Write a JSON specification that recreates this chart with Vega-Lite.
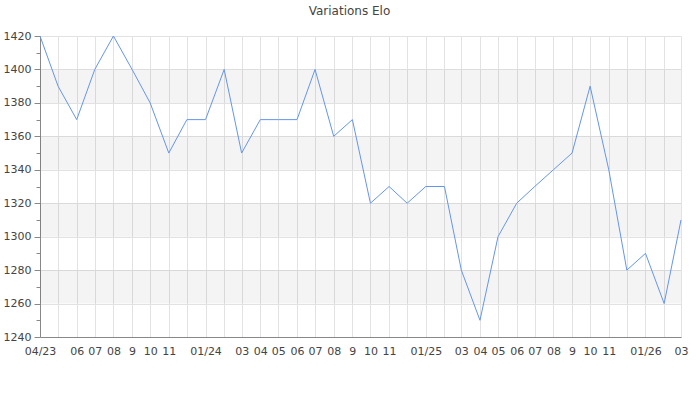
{
  "$schema": "https://vega.github.io/schema/vega-lite/v6.json",
  "autosize": {"type": "none"},
  "width": 641,
  "height": 301,
  "padding": {"left": 40, "top": 36, "right": 19, "bottom": 63},
  "config": {
    "font": "DejaVu Sans",
    "view": {"stroke": null},
    "axis": {"labelFont": "DejaVu Sans", "labelFontSize": 11, "labelColor": "#444444", "domainColor": "#888888", "tickColor": "#888888", "gridColor": "#e2e2e2", "title": null}
  },
  "title": {"text": "Variations Elo", "fontSize": 12, "fontWeight": "normal", "color": "#444444", "anchor": "middle", "dx": -11, "offset": 12, "font": "DejaVu Sans"},
  "datasets": {
    "elo": [
      {"date": "2023-04-01", "elo": 1420},
      {"date": "2023-05-01", "elo": 1390},
      {"date": "2023-06-01", "elo": 1370},
      {"date": "2023-07-01", "elo": 1400},
      {"date": "2023-08-01", "elo": 1420},
      {"date": "2023-09-01", "elo": 1400},
      {"date": "2023-10-01", "elo": 1380},
      {"date": "2023-11-01", "elo": 1350},
      {"date": "2023-12-01", "elo": 1370},
      {"date": "2024-01-01", "elo": 1370},
      {"date": "2024-02-01", "elo": 1400},
      {"date": "2024-03-01", "elo": 1350},
      {"date": "2024-04-01", "elo": 1370},
      {"date": "2024-05-01", "elo": 1370},
      {"date": "2024-06-01", "elo": 1370},
      {"date": "2024-07-01", "elo": 1400},
      {"date": "2024-08-01", "elo": 1360},
      {"date": "2024-09-01", "elo": 1370},
      {"date": "2024-10-01", "elo": 1320},
      {"date": "2024-11-01", "elo": 1330},
      {"date": "2024-12-01", "elo": 1320},
      {"date": "2025-01-01", "elo": 1330},
      {"date": "2025-02-01", "elo": 1330},
      {"date": "2025-03-01", "elo": 1280},
      {"date": "2025-04-01", "elo": 1250},
      {"date": "2025-05-01", "elo": 1300},
      {"date": "2025-06-01", "elo": 1320},
      {"date": "2025-07-01", "elo": 1330},
      {"date": "2025-08-01", "elo": 1340},
      {"date": "2025-09-01", "elo": 1350},
      {"date": "2025-10-01", "elo": 1390},
      {"date": "2025-11-01", "elo": 1340},
      {"date": "2025-12-01", "elo": 1280},
      {"date": "2026-01-01", "elo": 1290},
      {"date": "2026-02-01", "elo": 1260},
      {"date": "2026-03-01", "elo": 1310}
    ],
    "bands": [
      {"lo": 1260, "hi": 1280},
      {"lo": 1300, "hi": 1320},
      {"lo": 1340, "hi": 1360},
      {"lo": 1380, "hi": 1400}
    ]
  },
  "layer": [
    {
      "data": {"name": "bands"},
      "mark": {"type": "rect", "fill": "#000000", "fillOpacity": 0.045},
      "encoding": {
        "y": {
          "field": "lo", "type": "quantitative",
          "scale": {"domain": [1240, 1420], "nice": false, "zero": false},
          "axis": {
            "values": [1240, 1250, 1260, 1270, 1280, 1290, 1300, 1310, 1320, 1330, 1340, 1350, 1360, 1370, 1380, 1390, 1400, 1410, 1420],
            "labelExpr": "datum.value % 20 == 0 ? format(datum.value, 'd') : ''",
            "labelOverlap": false,
            "labelFlush": false,
            "gridColor": {"condition": {"test": "datum.value % 20 != 0", "value": "transparent"}, "value": "#e2e2e2"},
            "tickSize": {"condition": {"test": "datum.value % 20 != 0", "value": 4}, "value": 6},
            "labelPadding": 3
          }
        },
        "y2": {"field": "hi"}
      }
    },
    {
      "data": {"name": "elo"},
      "mark": {"type": "line", "color": "#6495ed", "strokeWidth": 1},
      "encoding": {
        "x": {
          "field": "date", "type": "temporal",
          "scale": {"type": "utc", "nice": false},
          "axis": {
            "tickCount": {"interval": "month", "step": 1},
            "ticks": false,
            "labelPadding": 8,
            "labelOverlap": false,
            "labelFlush": false,
            "labelExpr": "utcmonth(datum.value)==0 ? utcFormat(datum.value,'%m/%y') : (utcyear(datum.value)==2023 && utcmonth(datum.value)==3) ? '04/23' : (utcmonth(datum.value)==11 || utcmonth(datum.value)==1 || (utcyear(datum.value)==2023 && utcmonth(datum.value)==4)) ? '' : utcmonth(datum.value)==8 ? '9' : utcFormat(datum.value,'%m')"
          }
        },
        "y": {
          "field": "elo", "type": "quantitative",
          "scale": {"domain": [1240, 1420], "nice": false, "zero": false},
          "axis": {
            "values": [1240, 1250, 1260, 1270, 1280, 1290, 1300, 1310, 1320, 1330, 1340, 1350, 1360, 1370, 1380, 1390, 1400, 1410, 1420],
            "labelExpr": "datum.value % 20 == 0 ? format(datum.value, 'd') : ''",
            "labelOverlap": false,
            "labelFlush": false,
            "gridColor": {"condition": {"test": "datum.value % 20 != 0", "value": "transparent"}, "value": "#e2e2e2"},
            "tickSize": {"condition": {"test": "datum.value % 20 != 0", "value": 4}, "value": 6},
            "labelPadding": 3
          }
        }
      }
    }
  ]
}
